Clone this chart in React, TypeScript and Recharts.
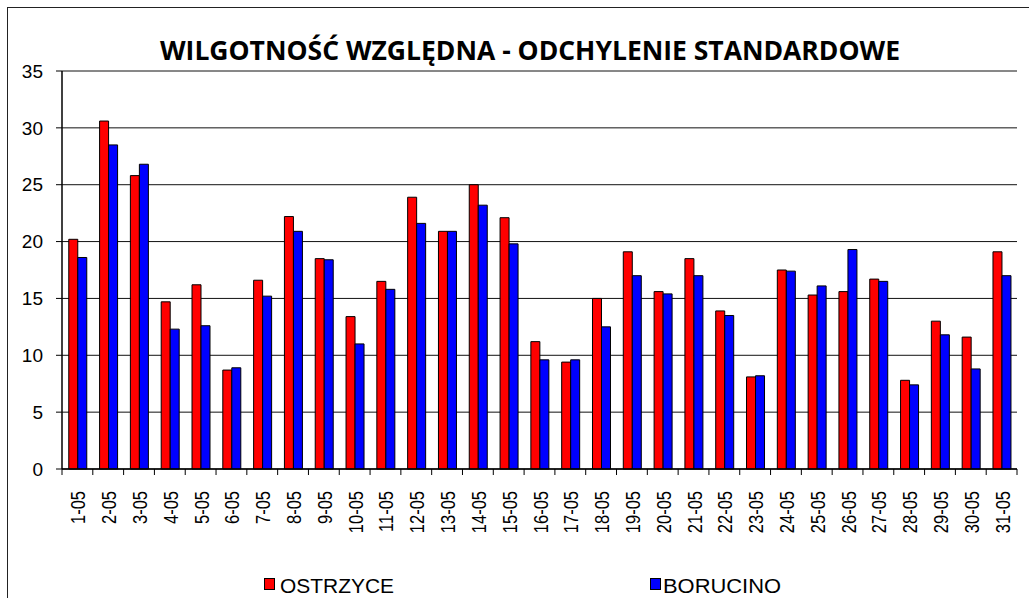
import React from "react";
import { BarChart, Bar, XAxis, YAxis, CartesianGrid } from "recharts";

const categories = [
  "1-05", "2-05", "3-05", "4-05", "5-05", "6-05", "7-05", "8-05", "9-05", "10-05",
  "11-05", "12-05", "13-05", "14-05", "15-05", "16-05", "17-05", "18-05", "19-05", "20-05",
  "21-05", "22-05", "23-05", "24-05", "25-05", "26-05", "27-05", "28-05", "29-05", "30-05", "31-05",
];
const ostrzyce = [
  20.2, 30.6, 25.8, 14.7, 16.2, 8.7, 16.6, 22.2, 18.5, 13.4,
  16.5, 23.9, 20.9, 25.0, 22.1, 11.2, 9.4, 15.0, 19.1, 15.6,
  18.5, 13.9, 8.1, 17.5, 15.3, 15.6, 16.7, 7.8, 13.0, 11.6, 19.1,
];
const borucino = [
  18.6, 28.5, 26.8, 12.3, 12.6, 8.9, 15.2, 20.9, 18.4, 11.0,
  15.8, 21.6, 20.9, 23.2, 19.8, 9.6, 9.6, 12.5, 17.0, 15.4,
  17.0, 13.5, 8.2, 17.4, 16.1, 19.3, 16.5, 7.4, 11.8, 8.8, 17.0,
];
const yTicks = [0, 5, 10, 15, 20, 25, 30, 35];
const seriesNames = ["OSTRZYCE", "BORUCINO"];

const data = categories.map((c, i) => ({ name: c, o: ostrzyce[i], b: borucino[i] }));

const W = 1029;
const H = 598;
const M = { top: 71, right: 12, left: 0, bottom: 0 };
const YAXIS_W = 62;
const PLOT_W = W - M.left - M.right - YAXIS_W;
const BAND = PLOT_W / categories.length;
const FONT = "'Liberation Sans', Arial, sans-serif";

const XTick = (props: any) => {
  const { x, y, payload, index } = props;
  const top = y - 8;
  return (
    <g>
      <line x1={x - BAND / 2} x2={x - BAND / 2} y1={top} y2={top + 6} stroke="#000" />
      {index === categories.length - 1 && (
        <line x1={x + BAND / 2} x2={x + BAND / 2} y1={top} y2={top + 6} stroke="#000" />
      )}
      <text
        x={0}
        y={0}
        transform={`translate(${x + 8},${top + 22}) rotate(-90) scale(1,1.2)`}
        textAnchor="end"
        fontSize={16.5}
        fontFamily={FONT}
        fill="#000"
      >
        {payload.value}
      </text>
    </g>
  );
};

export default function App() {
  return (
    <div style={{ position: "absolute", left: 0, top: 0, width: W, height: H, background: "#fff", overflow: "hidden" }}>
      <div
        style={{
          position: "absolute",
          left: 7,
          top: 7,
          width: W,
          height: H,
          borderLeft: "1.5px solid #222",
          borderTop: "1.5px solid #222",
        }}
      />
      <div style={{ position: "absolute", left: 0, top: 0 }}>
        <BarChart width={W} height={H} data={data} margin={M} barCategoryGap="22%" barGap={0}>
          <CartesianGrid yAxisId="l" horizontal vertical={false} stroke="#111" strokeWidth={1} />
          <XAxis
            dataKey="name"
            yAxisId="l"
            interval={0}
            tickLine={false}
            axisLine={{ stroke: "#000", strokeWidth: 1.5 }}
            height={H - 469 - M.bottom}
            tickSize={0}
            tickMargin={8}
            tick={<XTick />}
          />
          <YAxis
            yAxisId="l"
            domain={[0, 35]}
            ticks={yTicks}
            interval={0}
            width={YAXIS_W}
            tickSize={6}
            tickMargin={13}
            axisLine={{ stroke: "#000", strokeWidth: 1.5 }}
            tickLine={{ stroke: "#000" }}
            tick={{ fontSize: 19, fontFamily: FONT, fill: "#000" }}
          />
          <YAxis
            yAxisId="r"
            orientation="right"
            domain={[0, 35]}
            width={0}
            tick={false}
            tickLine={false}
            axisLine={{ stroke: "#444", strokeWidth: 1.5 }}
          />
          <Bar yAxisId="l" dataKey="o" name={seriesNames[0]} fill="#FF0000" stroke="#000" strokeWidth={1} isAnimationActive={false} />
          <Bar yAxisId="l" dataKey="b" name={seriesNames[1]} fill="#0000FF" stroke="#000" strokeWidth={1} isAnimationActive={false} />
        </BarChart>
      </div>
      <svg width={W} height={H} style={{ position: "absolute", left: 0, top: 0, pointerEvents: "none" }}>
        <text
          x={160}
          y={60}
          fontFamily="'Open Sans', sans-serif"
          fontWeight={700}
          fontSize={27}
          textLength={740}
          lengthAdjust="spacingAndGlyphs"
          fill="#000"
        >
          WILGOTNOŚĆ WZGLĘDNA - ODCHYLENIE STANDARDOWE
        </text>
        <rect x={264.5} y={578.5} width={10} height={11} fill="#FF0000" stroke="#000" />
        <text x={280} y={593} fontFamily={FONT} fontSize={20} textLength={114} lengthAdjust="spacingAndGlyphs" fill="#000">
          {seriesNames[0]}
        </text>
        <rect x={650.5} y={578.5} width={10} height={11} fill="#0000FF" stroke="#000" />
        <text x={663} y={593} fontFamily={FONT} fontSize={20} textLength={118} lengthAdjust="spacingAndGlyphs" fill="#000">
          {seriesNames[1]}
        </text>
      </svg>
    </div>
  );
}
